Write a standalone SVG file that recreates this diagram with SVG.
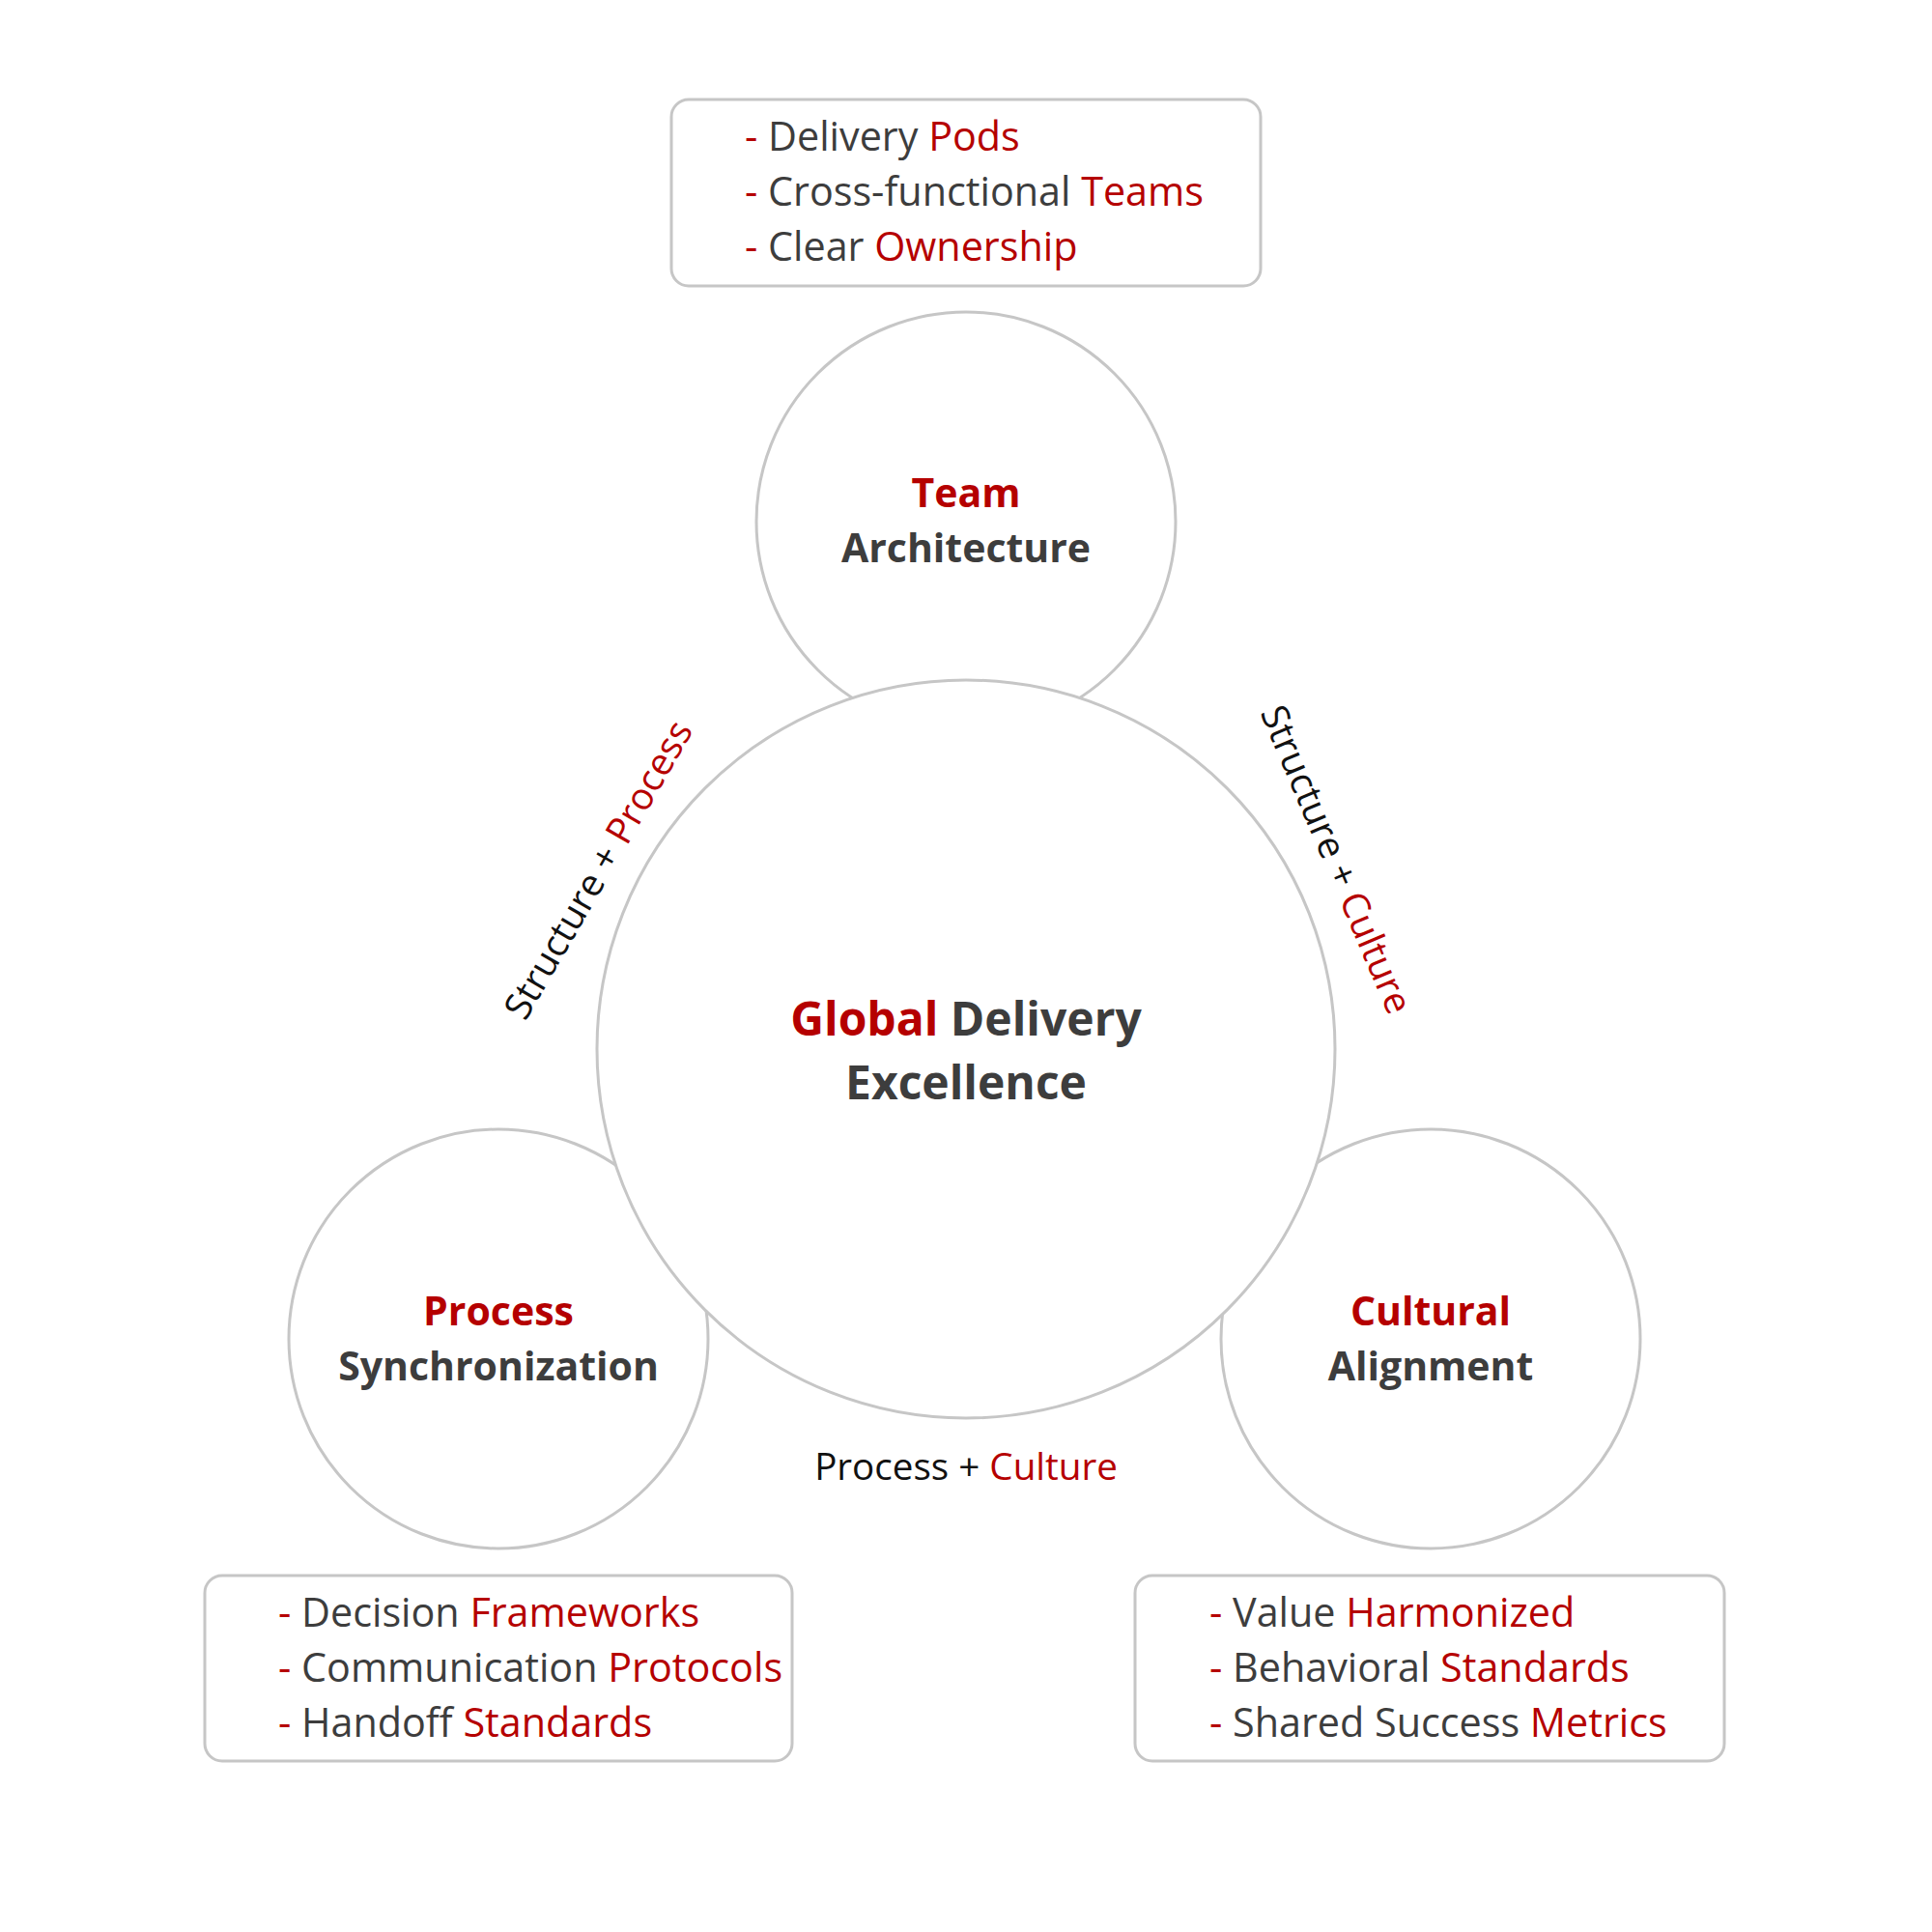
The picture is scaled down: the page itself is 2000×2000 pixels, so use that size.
<svg xmlns="http://www.w3.org/2000/svg" width="2000" height="2000" viewBox="0 0 2000 2000">
<style>
.bg{fill:#ffffff}
.circ{fill:#ffffff;stroke:#c6c6c6;stroke-width:3}
.box{fill:#ffffff;stroke:#c6c6c6;stroke-width:3}
text{font-family:"Open Sans","Noto Sans","Liberation Sans",sans-serif}
.item{font-size:41.3px;fill:#3d3d3d}
.r{fill:#b50000}
.title{font-size:41px;font-weight:700;fill:#3d3d3d;text-anchor:middle}
.main{font-size:48px;font-weight:700;fill:#3d3d3d;text-anchor:middle}
.lbl{font-size:38.6px;fill:#111111;text-anchor:middle}
</style>
<rect class="bg" x="0" y="0" width="2000" height="2000"/>
<g id="team-details">
<rect class="box" x="695" y="103" width="610" height="193" rx="18"/>
<text class="item" x="771" y="156"><tspan class="r">- </tspan>Delivery <tspan class="r">Pods</tspan></text>
<text class="item" x="771" y="213"><tspan class="r">- </tspan>Cross-functional <tspan class="r">Teams</tspan></text>
<text class="item" x="771" y="270"><tspan class="r">- </tspan>Clear <tspan class="r">Ownership</tspan></text>
</g>
<g id="team">
<circle class="circ" cx="1000" cy="540" r="217"/>
<text class="title" x="1000" y="525"><tspan class="r">Team</tspan></text>
<text class="title" x="1000" y="582">Architecture</text>
</g>
<g id="process">
<circle class="circ" cx="516" cy="1386" r="217"/>
<text class="title" x="516" y="1372"><tspan class="r">Process</tspan></text>
<text class="title" x="516" y="1429">Synchronization</text>
</g>
<g id="culture">
<circle class="circ" cx="1481" cy="1386" r="217"/>
<text class="title" x="1481" y="1372"><tspan class="r">Cultural</tspan></text>
<text class="title" x="1481" y="1429">Alignment</text>
</g>
<g id="core">
<circle class="circ" cx="1000" cy="1086" r="382"/>
<text class="main" x="1000" y="1072"><tspan class="r">Global</tspan> Delivery</text>
<text class="main" x="1000" y="1138">Excellence</text>
</g>
<g id="connectors">
<text class="lbl" transform="translate(631,907) rotate(-60)"><tspan>Structure + </tspan><tspan class="r">Process</tspan></text>
<text class="lbl" transform="translate(1371,895) rotate(67)"><tspan>Structure + </tspan><tspan class="r">Culture</tspan></text>
<text class="lbl" x="1000" y="1532">Process + <tspan class="r">Culture</tspan></text>
</g>
<g id="process-details">
<rect class="box" x="212" y="1631" width="608" height="192" rx="18"/>
<text class="item" x="288" y="1684"><tspan class="r">- </tspan>Decision <tspan class="r">Frameworks</tspan></text>
<text class="item" x="288" y="1741"><tspan class="r">- </tspan>Communication <tspan class="r">Protocols</tspan></text>
<text class="item" x="288" y="1798"><tspan class="r">- </tspan>Handoff <tspan class="r">Standards</tspan></text>
</g>
<g id="culture-details">
<rect class="box" x="1175" y="1631" width="610" height="192" rx="18"/>
<text class="item" x="1252" y="1684"><tspan class="r">- </tspan>Value <tspan class="r">Harmonized</tspan></text>
<text class="item" x="1252" y="1741"><tspan class="r">- </tspan>Behavioral <tspan class="r">Standards</tspan></text>
<text class="item" x="1252" y="1798"><tspan class="r">- </tspan>Shared Success <tspan class="r">Metrics</tspan></text>
</g>
</svg>
